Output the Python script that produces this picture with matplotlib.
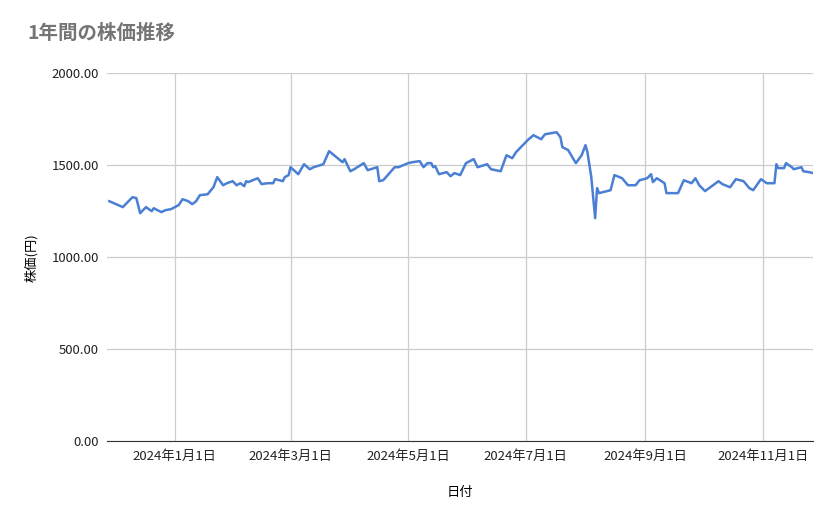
import matplotlib
matplotlib.use("Agg")
import matplotlib.pyplot as plt
import matplotlib.dates as mdates
import pandas as pd

plt.rcParams['font.family'] = ['Noto Sans CJK JP', 'DejaVu Sans']

day_offsets = [-34,-27,-22,-20,-18,-15,-12,-11,-7,-5,-2,2,4,7,9,11,13,17,20,22,25,27,30,32,34,36,37,38,43,45,48,51,52,56,57,59,60,64,67,70,72,77,80,85,87,88,91,93,98,100,105,106,108,109,114,116,121,123,127,129,131,133,134,135,137,141,143,145,148,
               151,155,157,162,164,169,172,175,177,183,186,190,192,198,200,201,204,208,211,213,214,216,218,219,220,226,228,232,235,239,241,245,247,248,250,254,255,261,264,268,270,272,275,282,284,288,291,295,298,300,304,307,311,312,313,316,317,320,321,325,326,329,331]
prices = [1304,1272,1326,1321,1239,1272,1250,1266,1245,1255,1261,1283,1315,1304,1288,1304,1337,1342,1380,1435,1391,1402,1413,1391,1402,1386,1413,1408,1429,1397,1402,1402,1424,1413,1435,1446,1489,1451,1505,1478,1489,1505,1576,1533,1516,1533,1467,1478,1511,1473,1489,1413,1418,1429,1489,1489,1511,1516,1522,1489,1511,1511,1489,1495,1451,1462,1440,1457,1446,
          1511,1533,1489,1505,1478,1467,1554,1538,1571,1636,1663,1641,1668,1679,1652,1598,1582,1511,1554,1609,1571,1435,1212,1375,1348,1364,1446,1429,1391,1391,1418,1429,1451,1408,1429,1402,1348,1348,1418,1402,1429,1391,1359,1413,1397,1380,1424,1413,1375,1364,1424,1402,1402,1505,1484,1484,1511,1489,1478,1489,1467,1462,1457]
tick_dates = ['2024-01-01','2024-03-01','2024-05-01','2024-07-01','2024-09-01','2024-11-01']
tick_labels = ['2024年1月1日','2024年3月1日','2024年5月1日','2024年7月1日','2024年9月1日','2024年11月1日']
y_ticks = [0, 500, 1000, 1500, 2000]

base = pd.Timestamp('2024-01-01')
dates = base + pd.to_timedelta(day_offsets, unit='D')

fig = plt.figure(figsize=(8.39, 5.19), dpi=100)
ax = fig.add_axes([0.128, 0.150, 0.841, 0.709])
ax.plot(dates, prices, color='#4a7fd4', lw=1.8)
ax.set_xlim(base + pd.Timedelta(days=-35), dates[-1])
ax.set_ylim(0, 2000)
ax.set_yticks(y_ticks)
ax.set_yticklabels([f'{v:.2f}' for v in y_ticks])
ax.set_xticks(pd.to_datetime(tick_dates))
ax.set_xticklabels(tick_labels)
ax.grid(True, color='#cccccc', lw=0.9)
ax.set_axisbelow(True)
for s in ax.spines.values():
    s.set_visible(False)
ax.spines['bottom'].set_visible(True)
ax.spines['bottom'].set_color('#333333')
ax.tick_params(length=0, labelsize=9.5, colors='#222222', pad=6)
ax.set_xlabel('日付', fontsize=9.5, labelpad=17)
ax.set_ylabel('株価(円)', fontsize=9.5, labelpad=10)
fig.text(0.033, 0.925, '1年間の株価推移', fontsize=14, color='#757575', weight='bold')
fig.savefig('out.png', dpi=100)
